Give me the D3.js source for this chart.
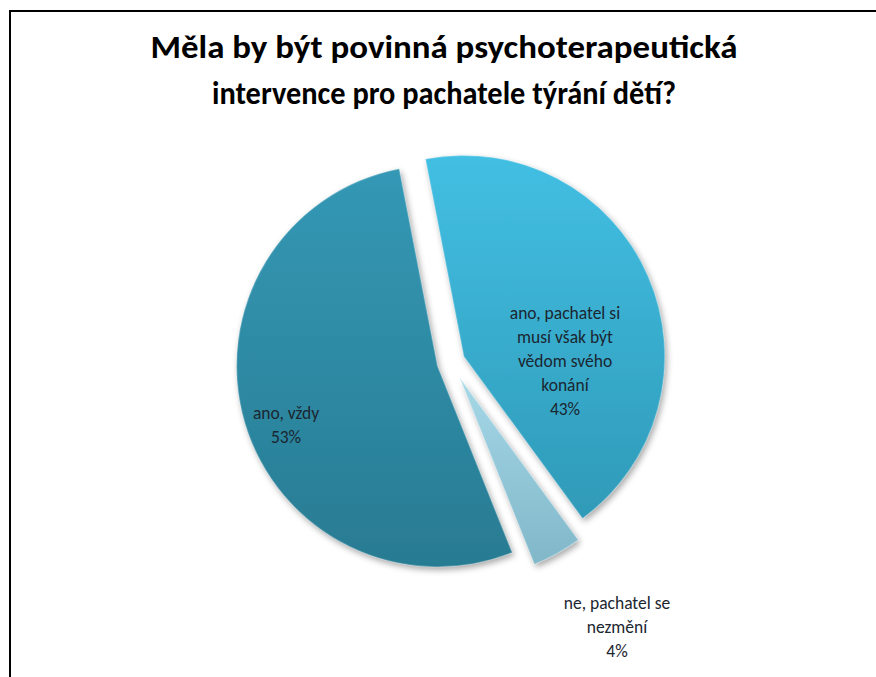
<!DOCTYPE html>
<html>
<head>
<meta charset="utf-8">
<script src="https://cdn.jsdelivr.net/npm/d3@7"></script>
<style>
  html, body { margin: 0; padding: 0; background: #fff; }
  svg { display: block; }
</style>
</head>
<body>
<svg id="chart" width="876" height="677"></svg>
<script>
// ---- data ----
const titleLines = ["Měla by být povinná psychoterapeutická", "intervence pro pachatele týrání dětí?"];
const categories = [
  ["ano, pachatel si", "musí však být", "vědom svého", "konání"],
  ["ne, pachatel se", "nezmění"],
  ["ano, vždy"]
];
const values = [43, 4, 53];
const percentLabels = ["43%", "4%", "53%"];

// ---- layout / style ----
const W = 876, H = 677;
const cx = 451, cy = 362, R = 201;
const explode = [14, 18, 14];
const startDeg = -11;
const gradStops = [
  ["#42BFE3", "#2F9AB8"],
  ["#A6D8E7", "#80B7C9"],
  ["#3498B5", "#287B92"]
];
const titleWidths = [587, 464];
const labelOffset = [[114, -1], [166, 265], [-165, 63]];
const lineH = 24;

const svg = d3.select("#chart");
const defs = svg.append("defs");

const f = defs.append("filter").attr("id", "shadow")
  .attr("x", "-20%").attr("y", "-20%").attr("width", "140%").attr("height", "140%");
f.append("feDropShadow").attr("dx", 2).attr("dy", 3).attr("stdDeviation", 3)
  .attr("flood-color", "#000").attr("flood-opacity", 0.35);

gradStops.forEach((g, i) => {
  const lg = defs.append("linearGradient").attr("id", "grad" + i)
    .attr("x1", 0).attr("x2", 0).attr("y1", 0).attr("y2", 1);
  lg.append("stop").attr("offset", "0%").attr("stop-color", g[0]);
  lg.append("stop").attr("offset", "100%").attr("stop-color", g[1]);
});

// border (frame extends beyond the viewport at right and bottom)
svg.append("rect").attr("x", 10).attr("y", 11).attr("width", W + 20).attr("height", H + 20)
  .attr("fill", "none").attr("stroke", "#000").attr("stroke-width", 2);

// title
svg.append("g").selectAll("text").data(titleLines).join("text")
  .attr("x", (d, i) => W / 2 + 6 - titleWidths[i] / 2).attr("y", (d, i) => 58 + i * 46)
  .attr("text-anchor", "start")
  .attr("textLength", (d, i) => titleWidths[i])
  .attr("lengthAdjust", "spacingAndGlyphs")
  .attr("font-family", "Carlito, Lato, 'Open Sans', sans-serif")
  .attr("font-weight", "bold").attr("font-size", 32).attr("fill", "#000")
  .text(d => d);

// pie
const pie = d3.pie().sort(null).value(d => d)
  .startAngle(startDeg * Math.PI / 180)
  .endAngle(startDeg * Math.PI / 180 + 2 * Math.PI);
const arcs = pie(values);
const arc = d3.arc().innerRadius(0).outerRadius(R);

const g = svg.append("g").attr("transform", `translate(${cx},${cy})`);
const slices = g.selectAll("g.slice").data(arcs).join("g").attr("class", "slice")
  .attr("transform", (d, i) => {
    const a = (d.startAngle + d.endAngle) / 2;
    return `translate(${Math.sin(a) * explode[i]},${-Math.cos(a) * explode[i]})`;
  });

slices.append("path")
  .attr("d", arc)
  .attr("fill", (d, i) => `url(#grad${i})`)
  .attr("filter", "url(#shadow)");

// bevel highlight
slices.append("path")
  .attr("d", arc)
  .attr("fill", "none")
  .attr("stroke", "rgba(255,255,255,0.25)")
  .attr("stroke-width", 1.5);

// labels
const lbl = svg.append("g")
  .attr("font-family", "Carlito, Lato, 'Open Sans', sans-serif")
  .attr("font-size", 17.5).attr("fill", "#1b2630").attr("text-anchor", "middle");

arcs.forEach((d, i) => {
  const lines = categories[i].concat([percentLabels[i]]);
  const n = lines.length;
  const [ox, oy] = labelOffset[i];
  const x0 = cx + ox, ymid = cy + oy;
  const t = lbl.append("text");
  lines.forEach((s, k) => {
    t.append("tspan").attr("x", x0)
      .attr("y", ymid + (k - (n - 1) / 2) * lineH + 6)
      .text(s);
  });
});
</script>
</body>
</html>
